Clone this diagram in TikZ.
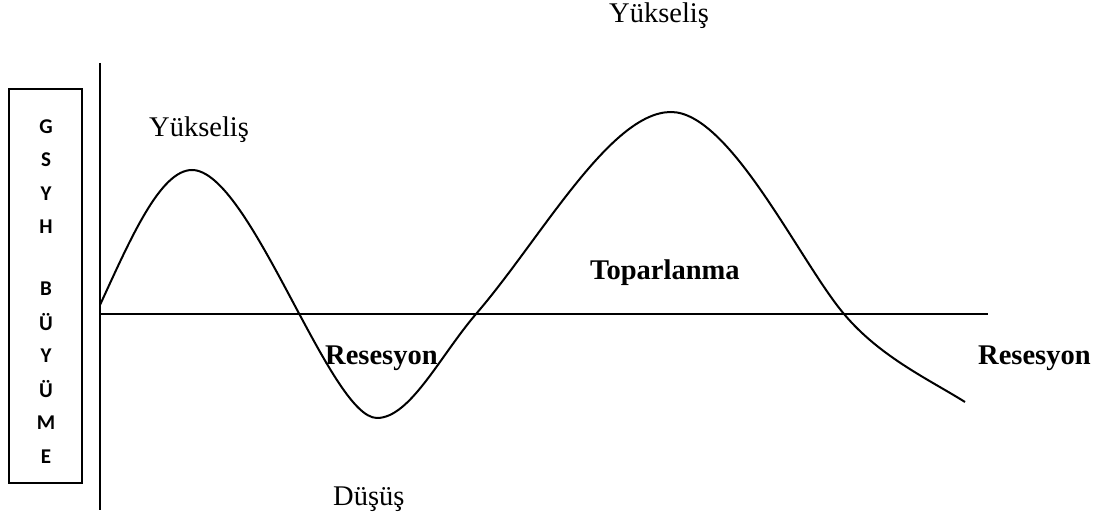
\documentclass[tikz,border=0pt]{standalone}
\usepackage{fontspec}
\setmainfont{Liberation Serif}
\newfontfamily\boxfont{Carlito}
\begin{document}
\begin{tikzpicture}[x=1pt,y=-1pt,
  lbl/.style={font=\fontsize{28.5}{30}\selectfont, inner sep=0pt, anchor=base west},
  blbl/.style={lbl, font=\fontsize{28.5}{30}\selectfont\bfseries},
  letter/.style={font=\boxfont\bfseries\fontsize{21}{22}\selectfont, inner sep=0pt},
  axis/.style={line width=2.2pt},
  wave/.style={line width=2pt, line join=round}]
\useasboundingbox (0,0) rectangle (1101,521);
% box
\node[draw, line width=1.5pt, minimum width=73pt, minimum height=394pt, inner sep=0pt] (box) at (45.5,286) {};
\node[letter] (l1) at (46,127) {G};
\node[letter] (l2) at (46,160) {S};
\node[letter] (l3) at (46,194) {Y};
\node[letter] (l4) at (46,227) {H};
\node[letter] (l5) at (46,289) {B};
\node[letter] (l6) at (46,322) {Ü};
\node[letter] (l7) at (46,356) {Y};
\node[letter] (l8) at (46,389) {Ü};
\node[letter] (l9) at (46,423) {M};
\node[letter] (l10) at (46,457) {E};
% axes
\coordinate (vtop) at (100,63);
\coordinate (vbot) at (100,510);
\coordinate (hl) at (100,314);
\coordinate (hr) at (988,314);
\draw[axis] (vtop) -- (vbot);
\draw[axis] (hl) -- (hr);
% wave
\coordinate (s) at (100,305);
\coordinate (p1) at (192,170);
\coordinate (t) at (377,418);
\coordinate (c2) at (476,314);
\coordinate (p2) at (671,112);
\coordinate (c3) at (844,314);
\coordinate (e) at (965,402);
\draw[wave] (s) .. controls (130,240) and (160,170) .. (p1)
  .. controls (250,170) and (330,418) .. (t)
  .. controls (410,418) and (440,356) .. (c2)
  .. controls (540,240) and (610,112) .. (p2)
  .. controls (730,112) and (800,262) .. (c3)
  .. controls (880,357) and (930,380) .. (e);
% labels
\node[lbl] (yt) at (609,23) {Yükseliş};
\node[lbl] (yl) at (149,137) {Yükseliş};
\node[blbl] (r1) at (325,365) {Resesyon};
\node[blbl] (r2) at (978,365) {Resesyon};
\node[blbl] (tp) at (590,280) {Toparlanma};
\node[lbl] (dd) at (333,505) {Düşüş};
\end{tikzpicture}
\end{document}
